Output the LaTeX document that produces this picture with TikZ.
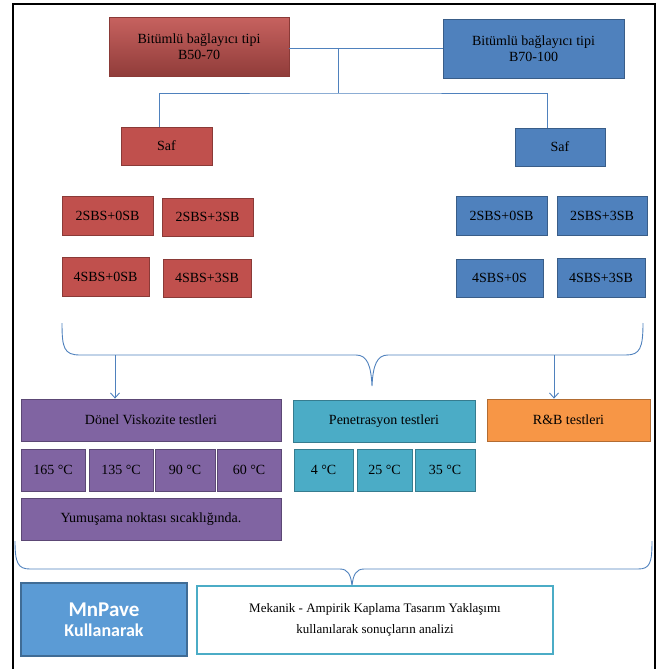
\documentclass[tikz,border=0pt]{standalone}
\usepackage{fontspec}
\setmainfont{Liberation Serif}
\newfontfamily\mnpfont{Carlito}
\usetikzlibrary{arrows.meta}
\definecolor{redF}{HTML}{C0504D}
\definecolor{bluF}{HTML}{4F81BD}
\definecolor{purF}{HTML}{8064A2}
\definecolor{cyaF}{HTML}{4BACC6}
\definecolor{oraF}{HTML}{F79646}
\definecolor{mnpF}{HTML}{5B9BD5}
\definecolor{lineB}{HTML}{4F81BD}
\begin{document}
\begin{tikzpicture}[x=1pt,y=-1pt,
   box/.style={draw=#1!72!black,fill=#1,line width=0.8pt,inner sep=0pt,
     font=\fontsize{14}{16}\selectfont,align=center},
   box/.default=redF,
   conn/.style={draw=lineB,line width=0.9pt},
   arr/.style={conn,-{Straight Barb[length=5pt,width=9pt]}}]
 \useasboundingbox (0,0) rectangle (660,669);
 \draw[line width=2.6pt] (13,669) -- (13,4) -- (655,4) -- (655,669);
 % binder types
 \node[box,top color=redF!90!white,bottom color=redF!75!black,
   minimum width=180pt,minimum height=59pt] (b5070) at (199,47) {Bitümlü bağlayıcı tipi\\B50-70};
 \node[box=bluF,minimum width=181pt,minimum height=59pt] (b70100) at (533.5,48.5) {Bitümlü bağlayıcı tipi\\B70-100};
 \node[box,minimum width=91pt,minimum height=38pt] (safR) at (166.5,146) {Saf};
 \node[box=bluF,minimum width=90pt,minimum height=38pt] (safB) at (560,147) {Saf};
 \coordinate (jn) at (338,48);
 \coordinate (split) at (338,93);
 \draw[conn] (b5070.east |- jn) -- (b70100.west |- jn);
 \draw[conn] (jn) -- (split);
 \draw[conn] ([xshift=-7.5pt]safR.north) |- (split) -| ([xshift=-13pt]safB.north);
 % modified binders
 \node[box,minimum width=91pt,minimum height=39pt] (r20) at (107.5,215.5) {2SBS+0SB};
 \node[box,minimum width=91pt,minimum height=38pt] (r23) at (207.5,217) {2SBS+3SB};
 \node[box,minimum width=87pt,minimum height=39pt] (r40) at (105.5,276.5) {4SBS+0SB};
 \node[box,minimum width=88pt,minimum height=38pt] (r43) at (207,278) {4SBS+3SB};
 \node[box=bluF,minimum width=91pt,minimum height=39pt] (bl20) at (501.5,215.5) {2SBS+0SB};
 \node[box=bluF,minimum width=90pt,minimum height=39pt] (bl23) at (602,215.5) {2SBS+3SB};
 \node[box=bluF,minimum width=87pt,minimum height=38pt] (bl40) at (499.5,278) {4SBS+0S};
 \node[box=bluF,minimum width=88pt,minimum height=39pt] (bl43) at (601,277.5) {4SBS+3SB};
 % first brace
 \draw[conn] (62,323) .. controls (62,348) and (64,355) .. (80,355) -- (356,355)
   .. controls (367,355) and (371,365) .. (372,386)
   .. controls (373,365) and (377,355) .. (388,355) -- (626,355)
   .. controls (640,355) and (643,348) .. (643,323);
 \coordinate (brL) at (115,355);
 \coordinate (brR) at (554,355);
 % tests
 \node[box=purF,minimum width=260pt,minimum height=42pt] (donel) at (151,420) {Dönel Viskozite testleri};
 \node[box=cyaF,minimum width=182pt,minimum height=42pt] (pen) at (384,421) {Penetrasyon testleri};
 \node[box=oraF,minimum width=163pt,minimum height=42pt] (rb) at (568.5,420) {R\&B testleri};
 \draw[arr] (brL) -- (brL |- donel.north);
 \draw[arr] (brR) -- (brR |- rb.north);
 \foreach \T/\cx/\w in {165/53/64,135/121/64,90/185/60,60/249/64}
  \node[box=purF,minimum width=\w pt,minimum height=42pt] (t\T) at (\cx,470) {\T~°C};
 \foreach \T/\cx/\w in {4/323.5/59,25/384.5/55,35/445/60}
  \node[box=cyaF,minimum width=\w pt,minimum height=42pt] (t\T) at (\cx,470) {\T~°C};
 \node[box=purF,minimum width=260pt,minimum height=42pt] (yumus) at (151,519) {Yumuşama noktası sıcaklığında.};
 % second brace
 \draw[conn] (15,541) .. controls (15,563) and (18,569) .. (30,569) -- (340,569)
   .. controls (348,569) and (351,575) .. (352,586)
   .. controls (353,575) and (356,569) .. (364,569) -- (638,569)
   .. controls (650,569) and (652,563) .. (652,541);
 % analysis
 \node[box=mnpF,draw=mnpF!70!black,line width=1.6pt,text=white,minimum width=166pt,minimum height=73pt,
   font=\mnpfont\bfseries\fontsize{18}{20}\selectfont] (mnp) at (104,619.5)
   {{\fontsize{21}{20}\selectfont MnPave}\\Kullanarak};
 \node[box=white,draw=cyaF,line width=1.4pt,minimum width=356pt,minimum height=68pt,
   font=\fontsize{13}{21}\selectfont] (mek) at (375,620)
   {Mekanik - Ampirik Kaplama Tasarım Yaklaşımı\\kullanılarak sonuçların analizi};
\end{tikzpicture}
\end{document}
